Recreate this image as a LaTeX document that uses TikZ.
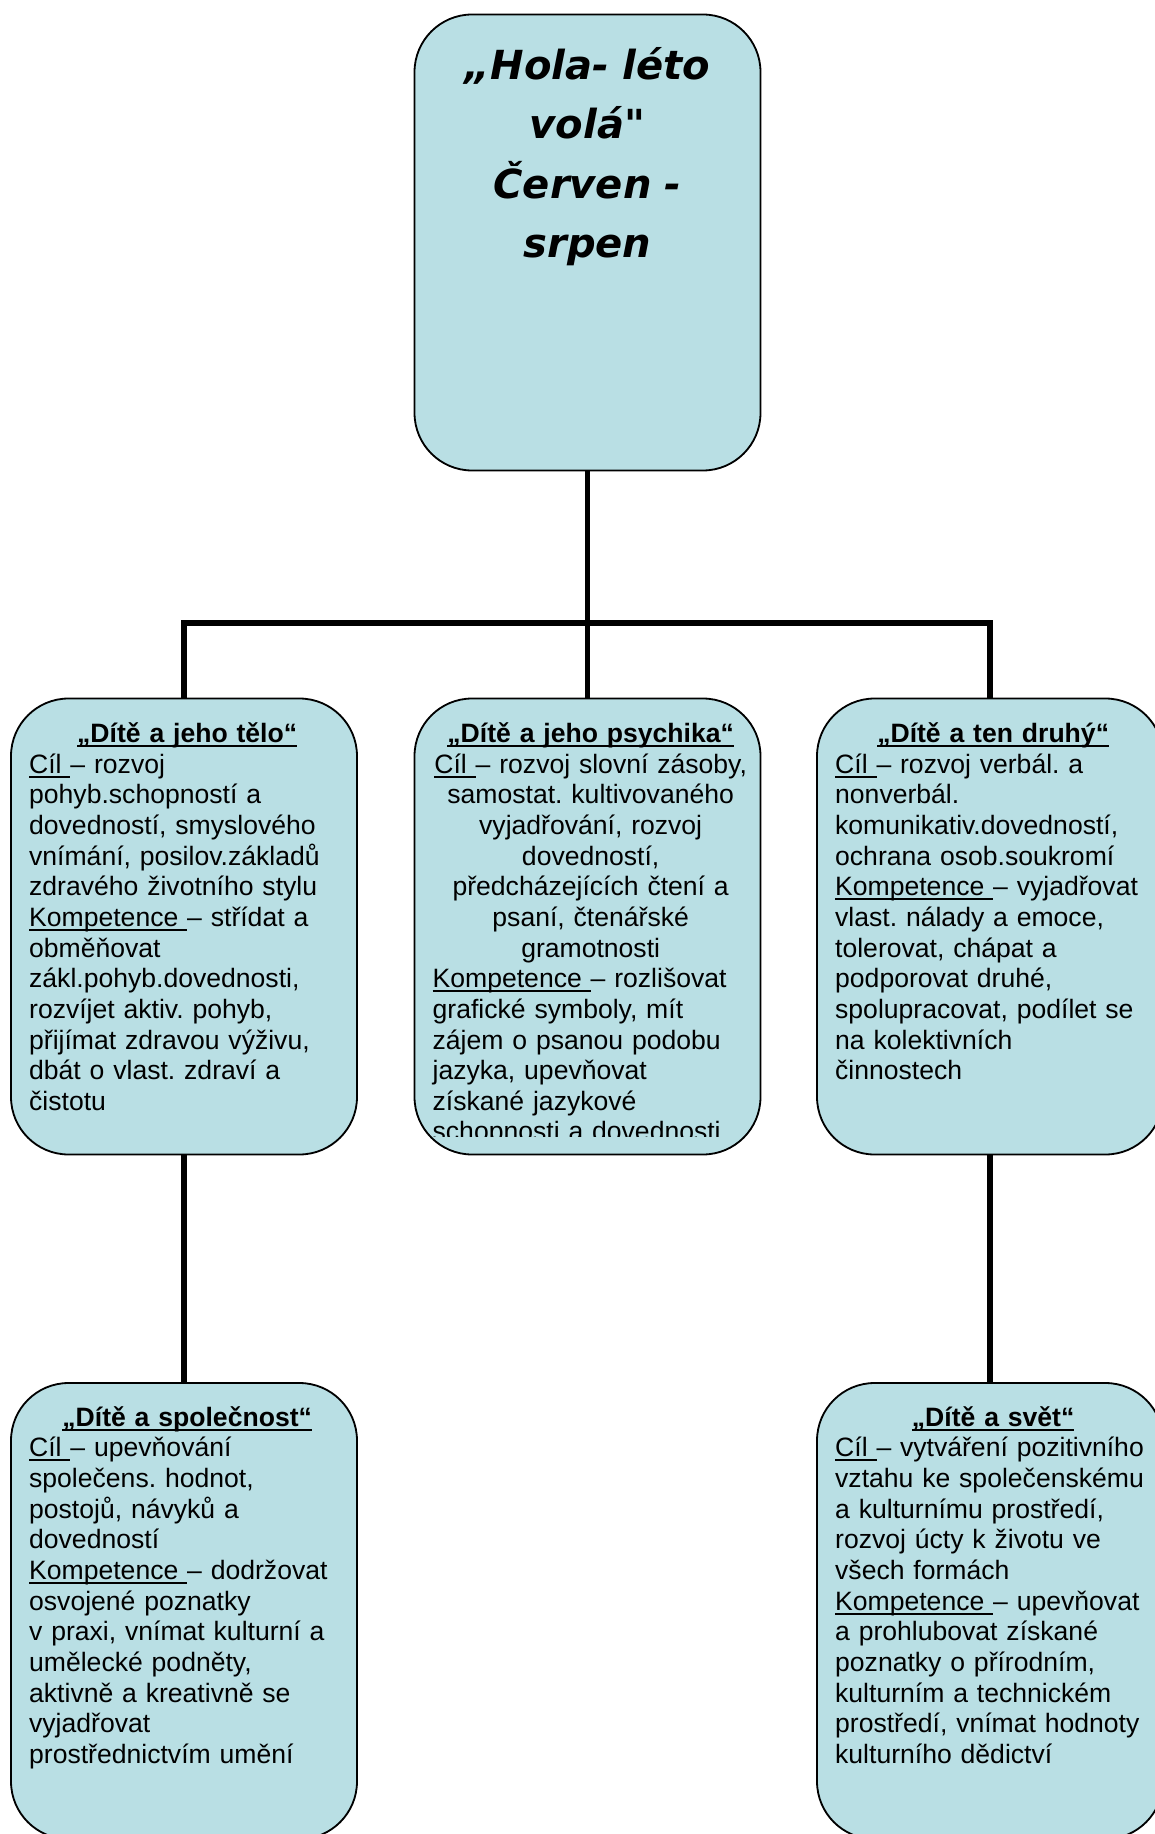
\documentclass[tikz,border=0pt]{standalone}
\usepackage{fontspec}
\setmainfont{Liberation Sans}
\newfontfamily\titlefont{DejaVu Sans}[Ligatures=TeXOff]
\usetikzlibrary{positioning}
\definecolor{boxfill}{RGB}{185,223,228}
\newsavebox{\ulbox}
\newcommand{\ulin}[1]{\leavevmode\sbox\ulbox{#1}\rlap{\rule[-3.2pt]{\wd\ulbox}{1.4pt}}\usebox\ulbox}
\frenchspacing

\begin{document}
\begin{tikzpicture}[
    theme/.style={rectangle, draw, line width=1.3pt, rounded corners=1.44cm, fill=boxfill, minimum width=8.65cm, minimum height=11.4cm, inner sep=0pt},
    link/.style={line width=3.6pt},
    content/.style={anchor=north west, inner sep=0pt, text width=7.9cm, align=left, font=\fontsize{18.9pt}{21.8pt}\selectfont},
    heading/.style={inner sep=0pt, text width=8cm, align=center, font=\titlefont\bfseries\itshape\fontsize{28.5pt}{42.2pt}\selectfont}
]
    \useasboundingbox (0,0) rectangle (28.85,-45.85);

    % Boxes
    \node[theme] (leto) at (14.6875, -6.0625) {};
    \node[theme] (telo) at (4.6, -23.1625) {};
    \node[theme] (psyche) at (14.6875, -23.1625) {};
    \node[theme] (druhy) at (24.75, -23.1625) {};
    \node[theme] (spolecnost) at (4.6, -40.275) {};
    \node[theme] (svet) at (24.75, -40.275) {};

    % Connectors
    \coordinate (bus) at (14.6875, -15.575);
    \draw[link] (leto.south) -- (bus);
    \draw[link] (telo.north) |- (bus) -| (druhy.north);
    \draw[link] (bus) -- (psyche.north);
    \draw[link] (telo.south) -- (spolecnost.north);
    \draw[link] (druhy.south) -- (svet.north);

    % Texts
    \node[heading, below=0.6cm of leto.north] (letotext) {\strut„Hola- léto\\ volá"\\ Červen -\\ srpen};

    \node[content, below right=0.58cm and 0.47cm of telo.north west] (telotext) {%
        {\centering\strut\textbf{\ulin{„Dítě a jeho tělo“}}\par}
        \ulin{Cíl }– rozvoj\\ pohyb.schopností a\\ dovedností, smyslového\\ vnímání, posilov.základů\\ zdravého životního stylu\\
        \ulin{Kompetence }– střídat a\\ obměňovat\\ zákl.pohyb.dovednosti,\\ rozvíjet aktiv. pohyb,\\ přijímat zdravou výživu,\\ dbát o vlast. zdraví a\\ čistotu};

    \begin{scope}
        \clip (10, -17) rectangle (20, -28.41);
        \node[content, below right=0.58cm and 0.47cm of psyche.north west] (psychetext) {%
            {\centering\strut\textbf{\ulin{„Dítě a jeho psychika“}}\\
            \ulin{Cíl }– rozvoj slovní zásoby,\\ samostat. kultivovaného\\ vyjadřování, rozvoj\\ dovedností,\\ předcházejících čtení a\\ psaní, čtenářské\\ gramotnosti\par}
            \ulin{Kompetence }– rozlišovat\\ grafické symboly, mít\\ zájem o psanou podobu\\ jazyka, upevňovat\\ získané jazykové\\ schopnosti a dovednosti};
    \end{scope}

    \node[content, below right=0.58cm and 0.47cm of druhy.north west] (druhytext) {%
        {\centering\strut\textbf{\ulin{„Dítě a ten druhý“}}\par}
        \ulin{Cíl }– rozvoj verbál. a\\ nonverbál.\\ komunikativ.dovedností,\\ ochrana osob.soukromí\\
        \ulin{Kompetence }– vyjadřovat\\ vlast. nálady a emoce,\\ tolerovat, chápat a\\ podporovat druhé,\\ spolupracovat, podílet se\\ na kolektivních\\ činnostech};

    \node[content, below right=0.56cm and 0.47cm of spolecnost.north west] (spolecnosttext) {%
        {\centering\strut\textbf{\ulin{„Dítě a společnost“}}\par}
        \ulin{Cíl }– upevňování\\ společens. hodnot,\\ postojů, návyků a\\ dovedností\\
        \ulin{Kompetence }– dodržovat\\ osvojené poznatky\\ v praxi, vnímat kulturní a\\ umělecké podněty,\\ aktivně a kreativně se\\ vyjadřovat\\ prostřednictvím umění};

    \node[content, below right=0.56cm and 0.47cm of svet.north west] (svettext) {%
        {\centering\strut\textbf{\ulin{„Dítě a svět“}}\par}
        \ulin{Cíl }– vytváření pozitivního\\ vztahu ke společenskému\\ a kulturnímu prostředí,\\ rozvoj úcty k životu ve\\ všech formách\\
        \ulin{Kompetence }– upevňovat\\ a prohlubovat získané\\ poznatky o přírodním,\\ kulturním a technickém\\ prostředí, vnímat hodnoty\\ kulturního dědictví};
\end{tikzpicture}
\end{document}
